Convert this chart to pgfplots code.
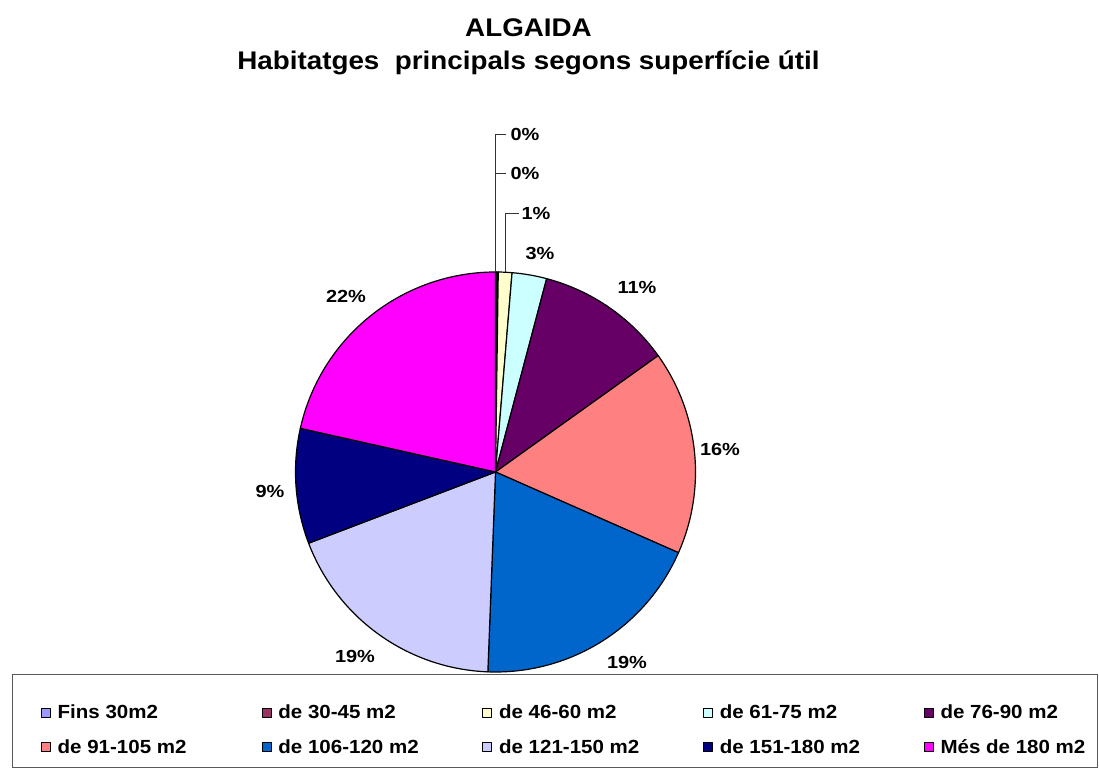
\documentclass[border=0pt]{standalone}
\usepackage{fontspec}
\setmainfont{Liberation Sans}
\newfontfamily\ttlf{Liberation Sans}[FakeStretch=1.09]
\newfontfamily\lblf{Liberation Sans}[FakeStretch=1.14]
\newfontfamily\legf{Liberation Sans}[FakeStretch=1.08]
\usepackage{pgfplots}
\usepackage{pgfplotstable}
\pgfplotsset{compat=1.18}

\definecolor{c0}{HTML}{9999FF}
\definecolor{c1}{HTML}{993366}
\definecolor{c2}{HTML}{FFFFCC}
\definecolor{c3}{HTML}{CCFFFF}
\definecolor{c4}{HTML}{660066}
\definecolor{c5}{HTML}{FF8080}
\definecolor{c6}{HTML}{0066CC}
\definecolor{c7}{HTML}{CCCCFF}
\definecolor{c8}{HTML}{000080}
\definecolor{c9}{HTML}{FF00FF}

% share of each category, clockwise from 12 o'clock
\pgfplotstableread{
value
0.10
0.12
1.10
2.80
11.00
16.50
19.00
18.60
9.30
21.50
}\piedata

\newcommand\lbl[1]{\makebox[207pt][l]{\strut\hspace{5pt}#1}}
\newcommand\lbll[1]{\strut\hspace{5pt}#1}

\begin{document}
\begin{tikzpicture}
\gdef\runsum{0}
\foreach \i in {0,...,9}{%
  \pgfplotstablegetelem{\i}{value}\of\piedata
  \pgfmathparse{\runsum+\pgfplotsretval}%
  \xdef\runsum{\pgfmathresult}%
  \expandafter\xdef\csname cum\i\endcsname{\runsum}%
}
\xdef\total{\runsum}
\foreach \i in {0,...,9}{%
  \ifnum\i=0 \def\prev{0}\else\pgfmathtruncatemacro\j{\i-1}\edef\prev{\csname cum\j\endcsname}\fi
  \pgfmathparse{\prev/\total*360}\expandafter\xdef\csname sa\i\endcsname{\pgfmathresult}%
  \pgfmathparse{\csname cum\i\endcsname/\total*360}\expandafter\xdef\csname ea\i\endcsname{\pgfmathresult}%
}
\begin{axis}[
  width=1099pt, height=770pt, scale only axis,
  xmin=0, xmax=1099, ymin=0, ymax=770,
  hide axis, clip=false,
  legend columns=5,
  legend style={draw=none, fill=none, at={(axis cs:41,40)}, anchor=west,
    inner sep=0pt, outer sep=0pt, row sep=15pt,
    font=\legf\fontsize{19}{19}\selectfont\bfseries,
    nodes={inner sep=2pt}, cells={anchor=west}},
  legend image code/.code={\draw[#1, line width=0.7pt] (0pt,-4.5pt) rectangle (9pt,4.5pt);},
  legend entries={\lbl{Fins 30m2},\lbl{de 30-45 m2},\lbl{de 46-60 m2},\lbl{de 61-75 m2},\lbll{de 76-90 m2},
    \lbl{de 91-105 m2},\lbl{de 106-120 m2},\lbl{de 121-150 m2},\lbl{de 151-180 m2},\lbll{Més de 180 m2}},
]
\path (axis cs:0,0) rectangle (axis cs:1099,770);
\pgfplotsinvokeforeach{0,...,9}{%
  \edef\tmp{\noexpand\addplot[draw=black, line width=1.2pt, line join=round, fill=c#1,
     domain=\csname sa#1\endcsname:\csname ea#1\endcsname, samples=90]
     ({495.5+200*sin(x)},{298+200*cos(x)}) -- (axis cs:495.5,298) -- cycle;}%
  \tmp
}
% legend frame
\draw[black!65, line width=1pt] (axis cs:12,2) rectangle (axis cs:1097,95);
% title
\node[font=\ttlf\fontsize{25.5}{28}\selectfont\bfseries, anchor=base] at (axis cs:528.5,733.3) {ALGAIDA};
\node[font=\ttlf\fontsize{25.5}{28}\selectfont\bfseries, anchor=base] at (axis cs:528.5,700) {Habitatges\ \ principals segons superfície útil};
% leader lines
\draw[black!80, line width=0.8pt] (axis cs:495.5,498) -- (axis cs:495.5,636) -- (axis cs:506,636);
\draw[black!80, line width=0.8pt] (axis cs:495.5,597) -- (axis cs:506,597);
\draw[black!80, line width=0.8pt] (axis cs:505,498) -- (axis cs:505,557) -- (axis cs:519,557);
% data labels
\begin{scope}[every node/.style={font=\lblf\fontsize{17.5}{19}\selectfont\bfseries}]
\node at (axis cs:525,636) {0\%};
\node at (axis cs:525,597) {0\%};
\node at (axis cs:536,557) {1\%};
\node at (axis cs:540,517) {3\%};
\node at (axis cs:637,483) {11\%};
\node at (axis cs:720,321) {16\%};
\node at (axis cs:627,108) {19\%};
\node at (axis cs:355,114) {19\%};
\node at (axis cs:270,279) {9\%};
\node at (axis cs:346,474) {22\%};
\end{scope}
\end{axis}
\end{tikzpicture}
\end{document}
